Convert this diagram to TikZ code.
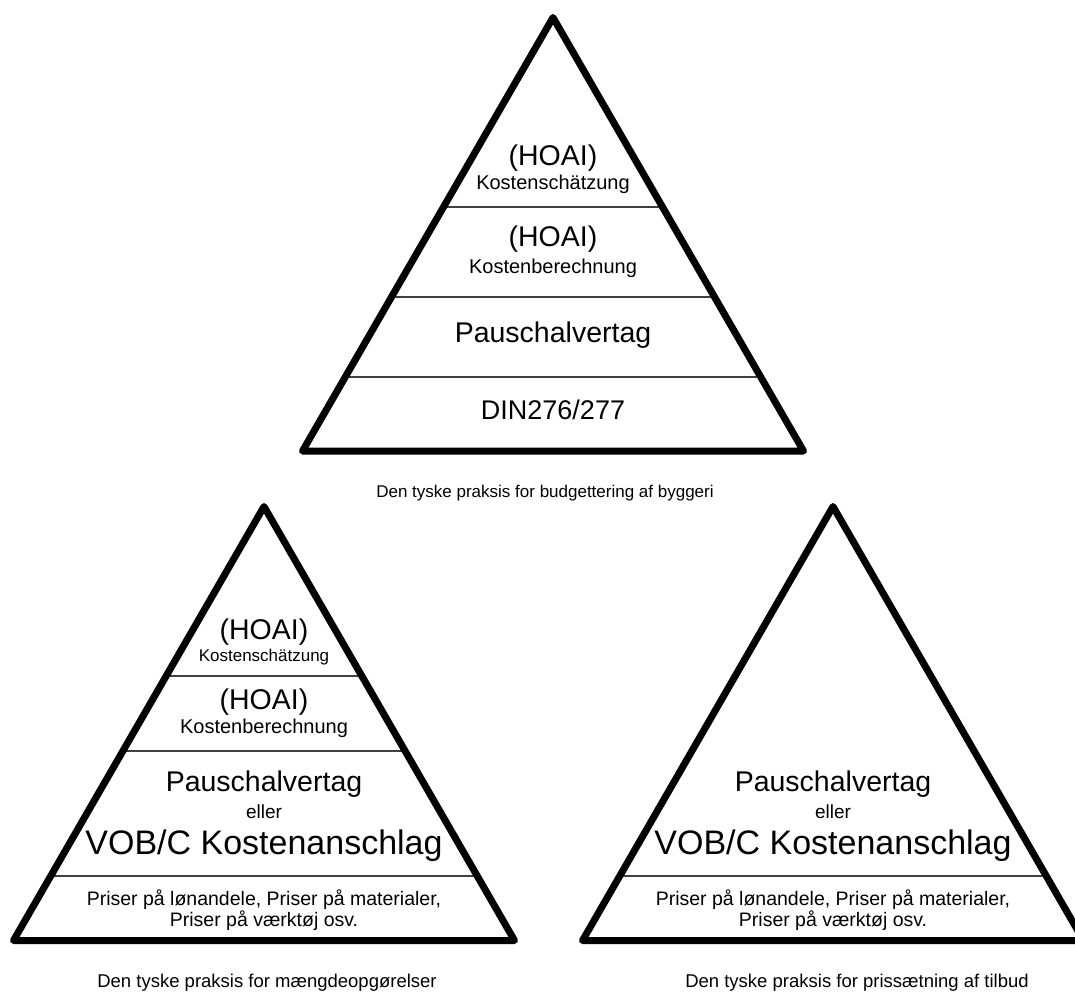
\documentclass[tikz,border=0pt]{standalone}
\usepackage{fontspec}
\setmainfont{Liberation Sans}
\begin{document}
\begin{tikzpicture}[x=1pt,y=-1pt,
  frame/.style={line width=7pt, line join=round, draw=black},
  tier/.style={line width=1.3pt, draw=black!75},
  lbl/.style={anchor=mid, inner sep=0pt, text=black},
  huge/.style={lbl, font=\fontsize{34}{36}\selectfont},
  big/.style={lbl, font=\fontsize{28.5}{30}\selectfont},
  num/.style={lbl, font=\fontsize{27}{29}\selectfont},
  mid/.style={lbl, font=\fontsize{20}{22}\selectfont},
  small/.style={lbl, font=\fontsize{19.5}{21}\selectfont},
  tiny/.style={lbl, font=\fontsize{17}{19}\selectfont},
  joiner/.style={lbl, font=\fontsize{19}{21}\selectfont},
  caption/.style={lbl, font=\fontsize{17}{19}\selectfont},
  lowcaption/.style={lbl, font=\fontsize{18.5}{20}\selectfont}]
\useasboundingbox (0,0) rectangle (1075,994);
\clip (0,0) rectangle (1075,994);

% corner points of the three equilateral pyramids
\coordinate (tA) at (553,17.5);  \coordinate (tB) at (302.5,451);  \coordinate (tC) at (803.5,451);
\coordinate (lA) at (264,506.5); \coordinate (lB) at (13.5,940.5); \coordinate (lC) at (514.5,940.5);
\coordinate (rA) at (833,506.5); \coordinate (rB) at (582.5,940.5);\coordinate (rC) at (1083.5,940.5);

% tier separators, cut to each pyramid
\begin{scope}
  \clip (tA) -- (tB) -- (tC) -- cycle;
  \draw[tier] (250,207) -- (850,207);
  \draw[tier] (250,297) -- (850,297);
  \draw[tier] (250,377) -- (850,377);
\end{scope}
\begin{scope}
  \clip (lA) -- (lB) -- (lC) -- cycle;
  \draw[tier] (0,676) -- (540,676);
  \draw[tier] (0,751) -- (540,751);
  \draw[tier] (0,876) -- (540,876);
\end{scope}
\begin{scope}
  \clip (rA) -- (rB) -- (rC) -- cycle;
  \draw[tier] (560,876) -- (1100,876);
\end{scope}

% pyramid outlines
\draw[frame] (tA) -- (tB) -- (tC) -- cycle;
\draw[frame] (lA) -- (lB) -- (lC) -- cycle;
\draw[frame] (rA) -- (rB) -- (rC) -- cycle;

% top pyramid
\node[big]  (t1a) at (553,163) {(HOAI)};
\node[mid]  (t1b) at (553,187) {Kostenschätzung};
\node[big]  (t2a) at (553,244) {(HOAI)};
\node[mid]  (t2b) at (553,271) {Kostenberechnung};
\node[big]  (t3)  at (553,340) {Pauschalvertag};
\node[num]  (t4)  at (553,417) {DIN276/277};
\node[caption] (tcap) at (545,495) {Den tyske praksis for budgettering af byggeri};

% lower left pyramid
\node[big]  (l1a) at (264,637) {(HOAI)};
\node[tiny] (l1b) at (264,659) {Kostenschätzung};
\node[big]  (l2a) at (264,707) {(HOAI)};
\node[mid]  (l2b) at (264,731) {Kostenberechnung};
\node[big]  (l3a) at (264,789) {Pauschalvertag};
\node[joiner] (l3b) at (264,816) {eller};
\node[huge] (l3c) at (264,852) {VOB/C Kostenanschlag};
\node[small] (l4a) at (264,903) {Priser på lønandele, Priser på materialer,};
\node[small] (l4b) at (264,924) {Priser på værktøj osv.};
\node[lowcaption] (lcap) at (267,985) {Den tyske praksis for mængdeopgørelser};

% lower right pyramid
\node[big]  (r3a) at (833,789) {Pauschalvertag};
\node[joiner] (r3b) at (833,816) {eller};
\node[huge] (r3c) at (833,852) {VOB/C Kostenanschlag};
\node[small] (r4a) at (833,903) {Priser på lønandele, Priser på materialer,};
\node[small] (r4b) at (833,924) {Priser på værktøj osv.};
\node[lowcaption] (rcap) at (857,985) {Den tyske praksis for prissætning af tilbud};
\end{tikzpicture}
\end{document}
